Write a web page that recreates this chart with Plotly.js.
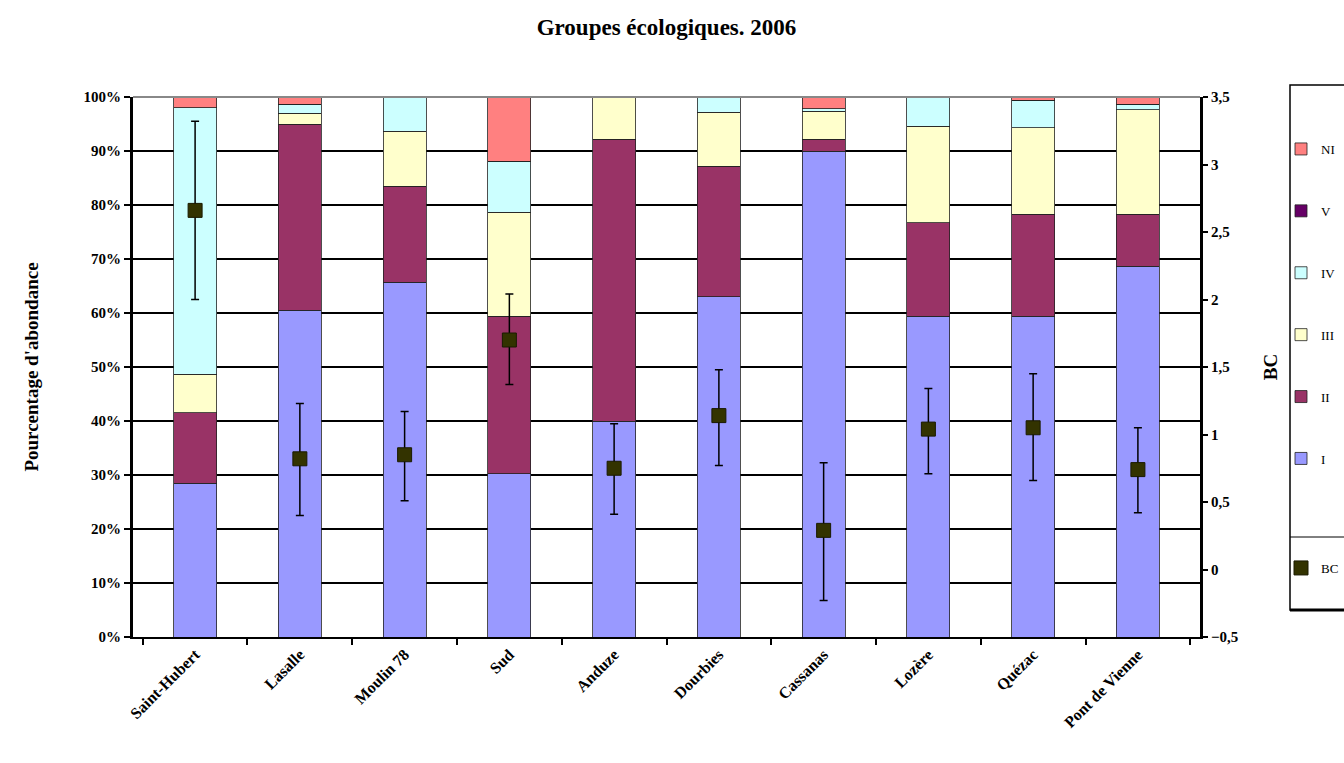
<!DOCTYPE html>
<html>
<head>
<meta charset="utf-8">
<script src="https://cdn.plot.ly/plotly-3.0.1.min.js"></script>
<style>html,body{margin:0;padding:0;background:#fff;}#chart{width:1344px;height:763px;}</style>
</head>
<body>
<div id="chart"></div>
<script>
const sites = ["Saint-Hubert", "Lasalle", "Moulin 78", "Sud", "Anduze", "Dourbies", "Cassanas", "Lozère", "Quézac", "Pont de Vienne"];
const groupI   = [28.5, 60.5, 65.7, 30.2, 40.0, 63.0, 90.0, 59.4, 59.4, 68.7];
const groupII  = [13.0, 34.5, 17.8, 29.2, 52.2, 24.2, 2.2, 17.3, 18.9, 9.6];
const groupIII = [7.2, 2.0, 10.2, 19.3, 7.8, 10.0, 5.2, 17.9, 16.0, 19.3];
const groupIV  = [49.3, 1.7, 6.3, 9.4, 0, 2.8, 0.4, 5.4, 5.1, 1.1];
const groupV   = [0, 0, 0, 0, 0, 0, 0, 0, 0, 0];
const groupNI  = [2.0, 1.3, 0, 11.9, 0, 0, 2.2, 0, 0.6, 1.3];
const bc       = [2.66, 0.82, 0.85, 1.70, 0.75, 1.14, 0.29, 1.04, 1.05, 0.74];
const bcErrUp  = [0.66, 0.41, 0.32, 0.34, 0.33, 0.34, 0.50, 0.30, 0.40, 0.31];
const bcErrDn  = [0.66, 0.42, 0.34, 0.33, 0.34, 0.37, 0.52, 0.33, 0.39, 0.32];

const fontFam = '"Liberation Serif", "DejaVu Serif", serif';
const outline = {color: '#222', width: 0.8};

function barTrace(name, vals, color, rank) {
  return {
    type: 'bar', name: name, x: sites, y: vals,
    marker: {color: color, line: outline},
    legendgroup: name, legendrank: rank,
    hoverinfo: 'x+y+name'
  };
}

const traces = [
  barTrace('I', groupI, '#9999FF', 6),
  barTrace('II', groupII, '#993366', 5),
  barTrace('III', groupIII, '#FFFFCC', 4),
  barTrace('IV', groupIV, '#CCFFFF', 3),
  barTrace('V', groupV, '#660066', 2),
  barTrace('NI', groupNI, '#FF8080', 1),
  {
    type: 'scatter', mode: 'markers', name: 'BC', x: sites, y: bc, yaxis: 'y2',
    marker: {symbol: 'square', size: 14, color: '#333300', line: {color: '#1a1a00', width: 1}},
    error_y: {type: 'data', symmetric: false, array: bcErrUp, arrayminus: bcErrDn,
              color: '#000', thickness: 1.5, width: 4},
    legend: 'legend2'
  }
];

// container coordinates helpers (page 1344 x 763)
const cx = x => x / 1344;
const cy = y => 1 - y / 763;

const layout = {
  width: 1344, height: 763,
  paper_bgcolor: '#fff', plot_bgcolor: '#fff',
  separators: ', ',
  margin: {l: 133, r: 144, t: 97, b: 126, autoexpand: false},
  barmode: 'stack', bargap: 0.59,
  font: {family: fontFam, color: '#000', size: 12},
  title: {text: '<b>Groupes écologiques. 2006</b>', x: 0.5, xref: 'paper', y: 0.965, yanchor: 'middle',
          font: {family: fontFam, size: 23, color: '#000'}},
  xaxis: {
    type: 'category', tickangle: -45, showline: true, linecolor: '#000', linewidth: 2,
    ticks: 'outside', ticklen: 6, tickwidth: 2, tickcolor: '#000', tickson: 'boundaries',
    tickfont: {family: fontFam, size: 16, color: '#000', weight: 'bold'},
    showgrid: false, zeroline: false, automargin: false
  },
  yaxis: {
    range: [0, 100], dtick: 10, ticksuffix: '%', showline: true, linecolor: '#000', linewidth: 3,
    ticks: 'outside', ticklen: 6, tickwidth: 2, tickcolor: '#000',
    showgrid: true, gridcolor: '#000', gridwidth: 2, zeroline: false, automargin: false,
    tickfont: {family: fontFam, size: 15, color: '#000', weight: 'bold'},
    title: {text: "<b>Pourcentage d'abondance</b>", standoff: 40, font: {family: fontFam, size: 19, color: '#000'}}
  },
  yaxis2: {
    overlaying: 'y', side: 'right', range: [-0.5, 3.5], dtick: 0.5, tickformat: '.1~f',
    showline: true, linecolor: '#000', linewidth: 3,
    ticks: 'outside', ticklen: 5, tickwidth: 2, tickcolor: '#000',
    showgrid: false, zeroline: false, automargin: false,
    tickfont: {family: fontFam, size: 15, color: '#000', weight: 'bold'},
    title: {text: '<b>BC</b>', standoff: 28, font: {family: fontFam, size: 19, color: '#000'}}
  },
  legend: {
    xref: 'container', yref: 'container',
    x: cx(1281), xanchor: 'left', y: cy(134), yanchor: 'top',
    borderwidth: 0, bgcolor: 'rgba(0,0,0,0)',
    traceorder: 'grouped', tracegroupgap: 42, itemwidth: 30,
    font: {family: fontFam, size: 13, color: '#000'}
  },
  legend2: {
    xref: 'container', yref: 'container',
    x: cx(1281), xanchor: 'left', y: cy(553), yanchor: 'top',
    borderwidth: 0, bgcolor: 'rgba(0,0,0,0)', itemwidth: 30,
    font: {family: fontFam, size: 13, color: '#000'}
  },
  shapes: [
    {type: 'line', xref: 'paper', yref: 'paper', x0: 0, x1: 1, y0: 1, y1: 1, line: {color: '#888', width: 2}},
    {type: 'rect', xref: 'paper', yref: 'paper', x0: (1290 - 133) / 1067, x1: (1350 - 133) / 1067,
     y0: (637 - 610) / 540, y1: (637 - 85) / 540, line: {color: '#000', width: 1.5}, layer: 'below'},
    {type: 'line', xref: 'paper', yref: 'paper', x0: (1290 - 133) / 1067, x1: (1350 - 133) / 1067,
     y0: (637 - 610) / 540, y1: (637 - 610) / 540, line: {color: '#000', width: 3}},
    {type: 'line', xref: 'paper', yref: 'paper', x0: (1290 - 133) / 1067, x1: (1350 - 133) / 1067,
     y0: (637 - 537) / 540, y1: (637 - 537) / 540, line: {color: '#000', width: 1}}
  ]
};

Plotly.newPlot('chart', traces, layout, {displayModeBar: false, staticPlot: true});
</script>
</body>
</html>
